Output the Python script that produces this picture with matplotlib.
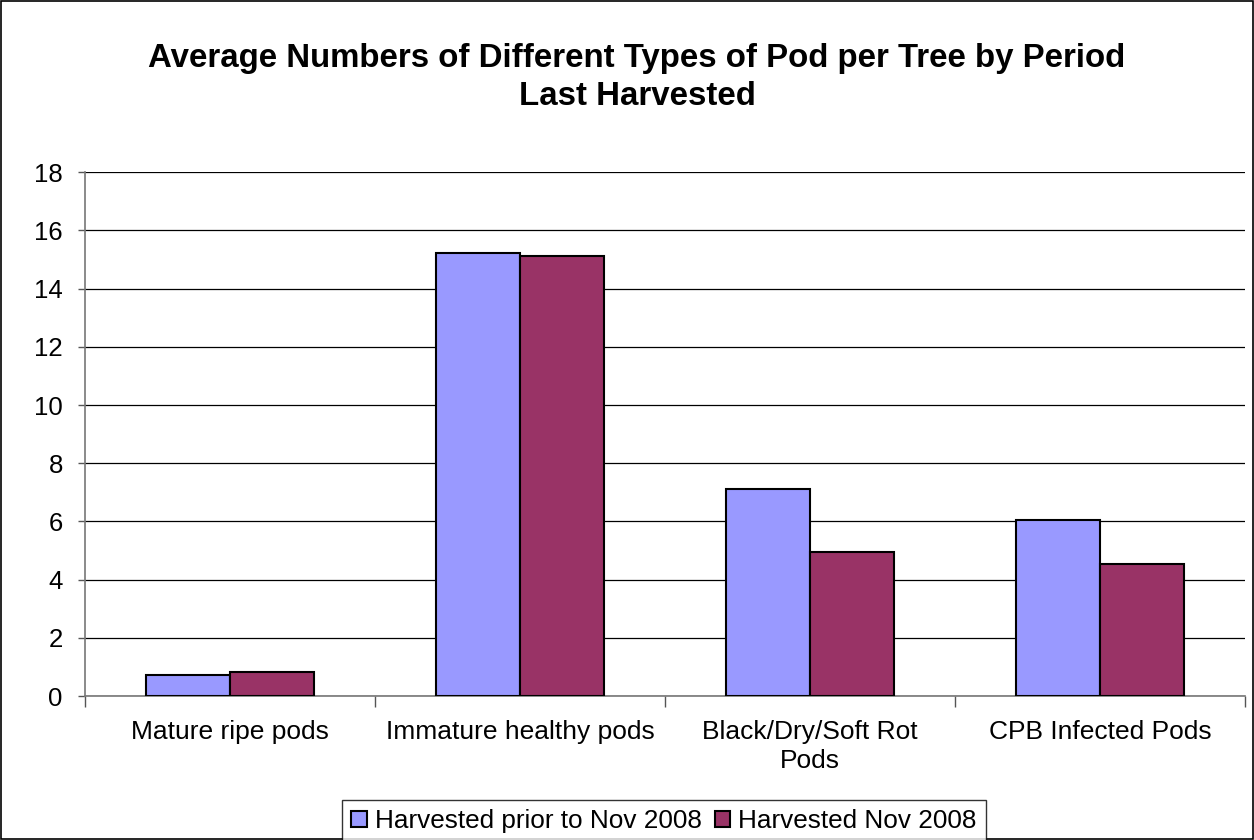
import numpy as np
import matplotlib.pyplot as plt
from matplotlib.patches import Rectangle

plt.rcParams['font.family'] = ['Liberation Sans', 'DejaVu Sans']

categories = ["Mature ripe pods", "Immature healthy pods", "Black/Dry/Soft Rot\nPods", "CPB Infected Pods"]
prior_nov_2008 = [0.72, 15.23, 7.13, 6.04]
nov_2008 = [0.83, 15.11, 4.94, 4.52]
series_names = ["Harvested prior to Nov 2008", "Harvested Nov 2008"]
y_ticks = [0, 2, 4, 6, 8, 10, 12, 14, 16, 18]

fig = plt.figure(figsize=(12.54, 8.4), dpi=100)
ax = fig.add_axes([0.0678, 0.1714, 0.925, 0.6236])

x = np.arange(len(categories))
w = 0.29
ax.bar(x - w / 2, prior_nov_2008, w, color='#9999FF', edgecolor='black', linewidth=1.5,
       label=series_names[0], zorder=3)
ax.bar(x + w / 2, nov_2008, w, color='#993366', edgecolor='black', linewidth=1.5,
       label=series_names[1], zorder=3)

ax.set_xlim(-0.5, len(categories) - 0.5)
ax.set_ylim(0, 18)
ax.set_yticks(y_ticks)
ax.set_yticklabels([str(t) for t in y_ticks], fontsize=18.5)
ax.yaxis.grid(True, color='black', linewidth=0.9, zorder=0)

# category labels centred, tick marks on the boundaries
ax.set_xticks(x)
ax.set_xticklabels(categories, fontsize=19, linespacing=1.3)
ax.tick_params(axis='x', length=0, pad=17)
ax.set_xticks(np.arange(-0.5, len(categories)), minor=True)
ax.tick_params(axis='x', which='minor', length=8, color='#555555', width=1)
ax.tick_params(axis='y', length=5, color='#555555', width=1, pad=11)

for side in ['top', 'right']:
    ax.spines[side].set_visible(False)
ax.spines['left'].set_color('#777777')
ax.spines['bottom'].set_color('#777777')
ax.spines['left'].set_linewidth(1.2)
ax.spines['bottom'].set_linewidth(1.2)

fig.text(0.508, 0.908, "Average Numbers of Different Types of Pod per Tree by Period\nLast Harvested",
         ha='center', va='center', fontsize=23.8, fontweight='bold', linespacing=1.3)

leg = fig.legend(loc='upper center', bbox_to_anchor=(0.5295, 0.0476), ncol=2,
                 fontsize=18.8, frameon=True, fancybox=False, edgecolor='black',
                 handlelength=0.6, handleheight=0.6, handletextpad=0.3, columnspacing=0.5,
                 borderpad=0.35, borderaxespad=0)
leg.get_frame().set_linewidth(1)

fig.patches.append(Rectangle((0.001, 0.001), 0.998, 0.998, transform=fig.transFigure,
                             fill=False, edgecolor='black', linewidth=1.2))

fig.savefig('out.png', dpi=100)
